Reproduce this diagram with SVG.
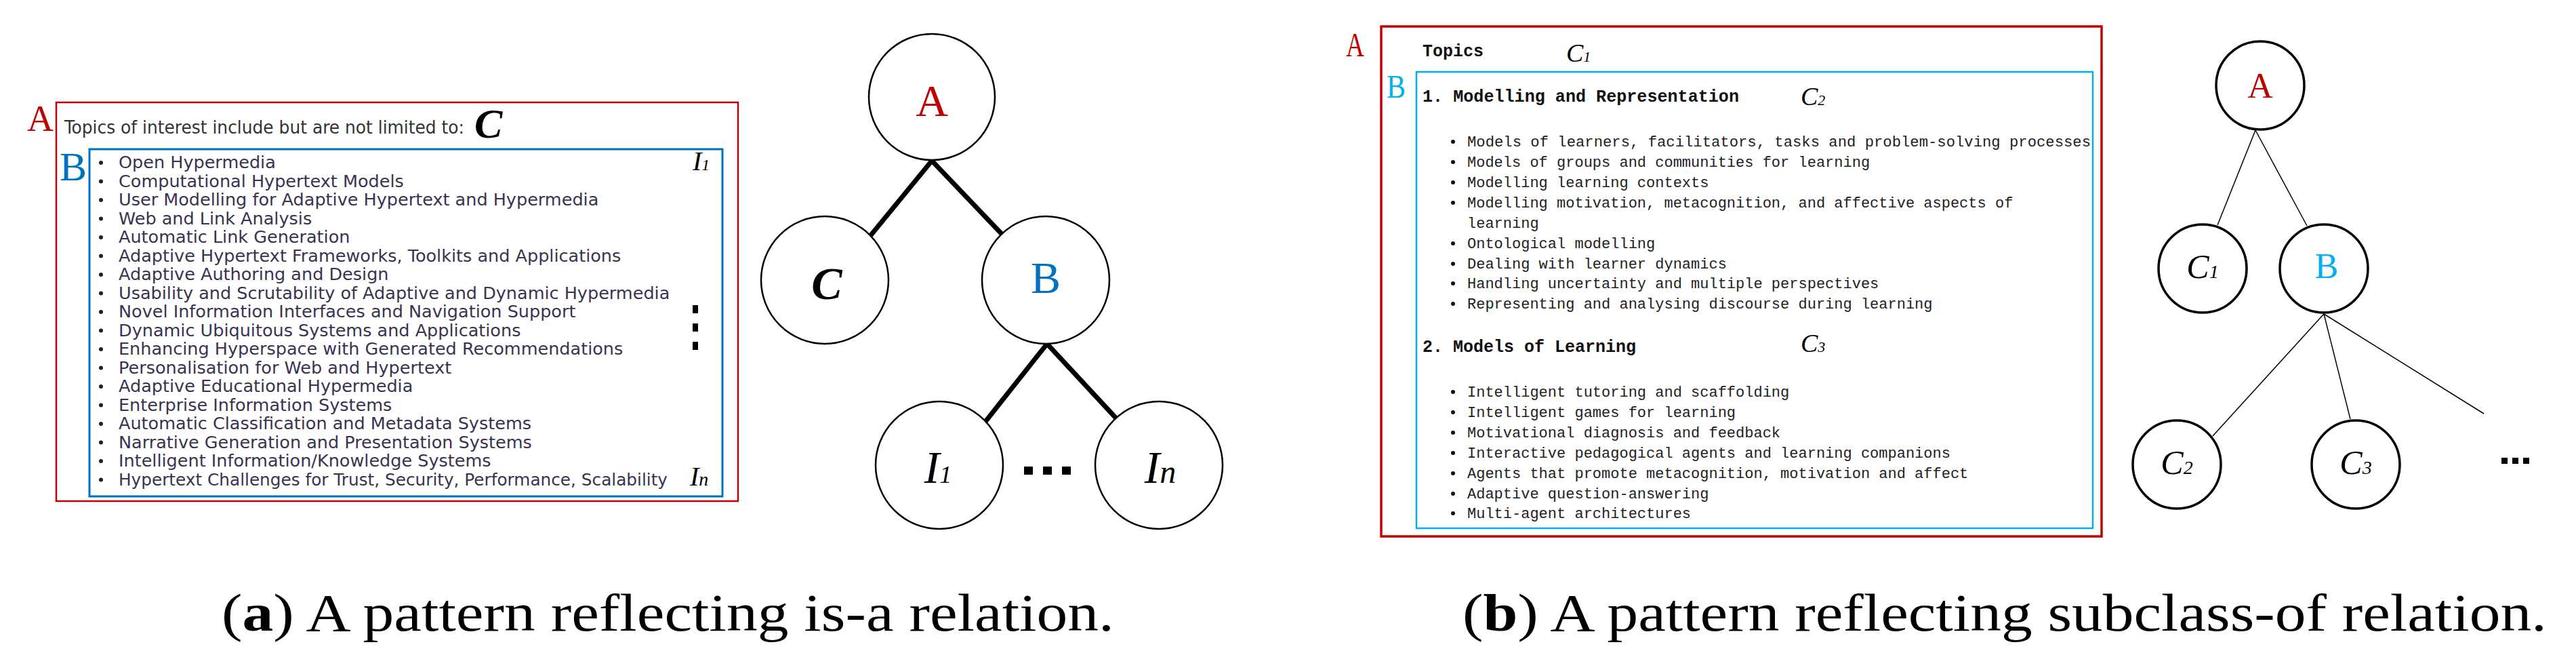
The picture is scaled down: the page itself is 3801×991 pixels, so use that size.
<svg xmlns="http://www.w3.org/2000/svg" width="3801" height="991" viewBox="0 0 3801 991">
<style>
.bg{fill:#fff}
.serif{font-family:"Liberation Serif","Times New Roman",serif}
.it{font-family:"Liberation Serif",serif;font-style:italic}
.red{fill:#C00000}
.blue1{fill:#0070C0}
.blue2{fill:#00B0F0}
.lst{font-family:"DejaVu Sans","Liberation Sans",sans-serif;font-size:25.5px;fill:#3a3350}
.mono{font-family:"Liberation Mono","DejaVu Sans Mono",monospace;font-size:22px;fill:#222}
.monob{font-family:"Liberation Mono",monospace;font-size:25px;font-weight:bold;fill:#111}
.n1{fill:#fff;stroke:#000;stroke-width:2.5}
.n2{fill:#fff;stroke:#000;stroke-width:3.5}
.thick{stroke:#000;stroke-width:7;fill:none}
.thin{stroke:#000;stroke-width:1.5;fill:none}
</style>
<rect class="bg" width="3801" height="991"/>

<!-- Panel a : list -->
<g id="panelA-list">
<rect x="83" y="151" width="1006" height="588" fill="none" stroke="#C00000" stroke-width="2.5"/>
<text class="serif red" x="40" y="193" font-size="54">A</text>
<text x="95" y="197" font-family="DejaVu Sans Condensed,Liberation Sans,sans-serif" font-size="26" fill="#333" textLength="590" lengthAdjust="spacingAndGlyphs">Topics of interest include but are not limited to:</text>
<text class="it" x="700" y="203" font-size="62" font-weight="bold">C</text>
<rect x="132" y="220" width="934" height="512" fill="none" stroke="#0070C0" stroke-width="3"/>
<text class="serif blue1" x="88" y="266" font-size="60">B</text>
<g class="lst">
<text x="175" y="248">Open Hypermedia</text>
<text x="175" y="275.5">Computational Hypertext Models</text>
<text x="175" y="303">User Modelling for Adaptive Hypertext and Hypermedia</text>
<text x="175" y="330.5">Web and Link Analysis</text>
<text x="175" y="358">Automatic Link Generation</text>
<text x="175" y="385.5">Adaptive Hypertext Frameworks, Toolkits and Applications</text>
<text x="175" y="413">Adaptive Authoring and Design</text>
<text x="175" y="440.5">Usability and Scrutability of Adaptive and Dynamic Hypermedia</text>
<text x="175" y="468">Novel Information Interfaces and Navigation Support</text>
<text x="175" y="495.5">Dynamic Ubiquitous Systems and Applications</text>
<text x="175" y="523">Enhancing Hyperspace with Generated Recommendations</text>
<text x="175" y="550.5">Personalisation for Web and Hypertext</text>
<text x="175" y="578">Adaptive Educational Hypermedia</text>
<text x="175" y="605.5">Enterprise Information Systems</text>
<text x="175" y="633">Automatic Classification and Metadata Systems</text>
<text x="175" y="660.5">Narrative Generation and Presentation Systems</text>
<text x="175" y="688">Intelligent Information/Knowledge Systems</text>
<text x="175" y="715.5" textLength="810" lengthAdjust="spacingAndGlyphs">Hypertext Challenges for Trust, Security, Performance, Scalability</text>
</g>
<g fill="#222">
<circle cx="149" cy="240" r="3"/><circle cx="149" cy="267.5" r="3"/><circle cx="149" cy="295" r="3"/><circle cx="149" cy="322.5" r="3"/><circle cx="149" cy="350" r="3"/><circle cx="149" cy="377.5" r="3"/><circle cx="149" cy="405" r="3"/><circle cx="149" cy="432.5" r="3"/><circle cx="149" cy="460" r="3"/><circle cx="149" cy="487.5" r="3"/><circle cx="149" cy="515" r="3"/><circle cx="149" cy="542.5" r="3"/><circle cx="149" cy="570" r="3"/><circle cx="149" cy="597.5" r="3"/><circle cx="149" cy="625" r="3"/><circle cx="149" cy="652.5" r="3"/><circle cx="149" cy="680" r="3"/><circle cx="149" cy="707.5" r="3"/>
</g>
<text class="it" x="1022" y="251" font-size="40">I<tspan font-size="24">1</tspan></text>
<text class="it" x="1018" y="716" font-size="40">I<tspan font-size="28">n</tspan></text>
<rect x="1022" y="450" width="8" height="12"/><rect x="1022" y="477" width="8" height="12"/><rect x="1022" y="504" width="8" height="12"/>
</g>

<!-- Panel a : tree -->
<g id="connectors-a">
<line class="thick" x1="1375" y1="237" x2="1284" y2="348"/>
<line class="thick" x1="1375" y1="237" x2="1479" y2="346"/>
<line class="thick" x1="1545" y1="507" x2="1453" y2="623"/>
<line class="thick" x1="1545" y1="507" x2="1648" y2="618"/>
</g>
<g id="a-A"><circle class="n1" cx="1375" cy="143" r="93"/><text class="serif red" x="1375" y="171" font-size="66" text-anchor="middle">A</text></g>
<g id="a-C"><circle class="n1" cx="1217" cy="413" r="94"/><text class="it" x="1220" y="441" font-size="68" font-weight="bold" text-anchor="middle">C</text></g>
<g id="a-B"><circle class="n1" cx="1543" cy="413" r="94"/><text class="serif blue1" x="1543" y="432" font-size="66" text-anchor="middle">B</text></g>
<g id="a-I1"><circle class="n1" cx="1386" cy="686" r="94"/><text class="it" x="1384" y="712" font-size="68" text-anchor="middle">I<tspan font-size="36">1</tspan></text></g>
<g id="a-In"><circle class="n1" cx="1710" cy="686" r="94"/><text class="it" x="1712" y="712" font-size="68" text-anchor="middle">I<tspan font-size="48">n</tspan></text></g>
<g id="a-dots"><rect x="1511" y="688" width="13" height="12"/><rect x="1539" y="688" width="13" height="12"/><rect x="1567" y="688" width="13" height="12"/></g>

<!-- Panel b : list -->
<g id="panelB-list">
<rect x="2038" y="39" width="1063" height="752" fill="none" stroke="#C00000" stroke-width="3.5"/>
<text class="serif red" x="1986" y="83" font-size="50" textLength="27" lengthAdjust="spacingAndGlyphs">A</text>
<text class="monob" x="2099" y="83" font-size="26">Topics</text>
<text class="it" x="2311" y="91" font-size="38">C<tspan font-size="22">1</tspan></text>
<rect x="2090" y="106" width="998" height="673" fill="none" stroke="#00B0F0" stroke-width="2.5"/>
<text class="serif blue2" x="2046" y="144" font-size="48" textLength="28" lengthAdjust="spacingAndGlyphs">B</text>
<text class="monob" x="2099" y="150" textLength="467" lengthAdjust="spacingAndGlyphs">1. Modelling and Representation</text>
<text class="it" x="2657" y="155" font-size="38">C<tspan font-size="22">2</tspan></text>
<g class="mono">
<text x="2165" y="216" textLength="920" lengthAdjust="spacingAndGlyphs">Models of learners, facilitators, tasks and problem-solving processes</text>
<text x="2165" y="246">Models of groups and communities for learning</text>
<text x="2165" y="276">Modelling learning contexts</text>
<text x="2165" y="306">Modelling motivation, metacognition, and affective aspects of</text>
<text x="2165" y="336">learning</text>
<text x="2165" y="366">Ontological modelling</text>
<text x="2165" y="396">Dealing with learner dynamics</text>
<text x="2165" y="425">Handling uncertainty and multiple perspectives</text>
<text x="2165" y="455">Representing and analysing discourse during learning</text>
<text x="2165" y="585">Intelligent tutoring and scaffolding</text>
<text x="2165" y="615">Intelligent games for learning</text>
<text x="2165" y="645">Motivational diagnosis and feedback</text>
<text x="2165" y="675">Interactive pedagogical agents and learning companions</text>
<text x="2165" y="705">Agents that promote metacognition, motivation and affect</text>
<text x="2165" y="735">Adaptive question-answering</text>
<text x="2165" y="764">Multi-agent architectures</text>
</g>
<g fill="#111">
<circle cx="2144" cy="209" r="3"/><circle cx="2144" cy="239" r="3"/><circle cx="2144" cy="269" r="3"/><circle cx="2144" cy="299" r="3"/><circle cx="2144" cy="359" r="3"/><circle cx="2144" cy="389" r="3"/><circle cx="2144" cy="418" r="3"/><circle cx="2144" cy="448" r="3"/>
<circle cx="2144" cy="578" r="3"/><circle cx="2144" cy="608" r="3"/><circle cx="2144" cy="638" r="3"/><circle cx="2144" cy="668" r="3"/><circle cx="2144" cy="698" r="3"/><circle cx="2144" cy="728" r="3"/><circle cx="2144" cy="757" r="3"/>
</g>
<text class="monob" x="2099" y="519" textLength="315" lengthAdjust="spacingAndGlyphs">2. Models of Learning</text>
<text class="it" x="2657" y="519" font-size="38">C<tspan font-size="22">3</tspan></text>
</g>

<!-- Panel b : tree -->
<g id="connectors-b">
<line class="thin" x1="3328" y1="192" x2="3272" y2="332"/>
<line class="thin" x1="3328" y1="192" x2="3404" y2="333"/>
<line class="thin" x1="3429" y1="463" x2="3265" y2="643"/>
<line class="thin" x1="3429" y1="463" x2="3468" y2="618"/>
<line class="thin" x1="3429" y1="463" x2="3665" y2="610"/>
</g>
<g id="b-A"><circle class="n2" cx="3335" cy="126" r="65"/><text class="serif red" x="3335" y="144" font-size="52" text-anchor="middle">A</text></g>
<g id="b-C1"><circle class="n2" cx="3250" cy="396" r="65"/><text class="it" x="3250" y="410" font-size="50" text-anchor="middle">C<tspan font-size="28">1</tspan></text></g>
<g id="b-B"><circle class="n2" cx="3429" cy="396" r="65"/><text class="serif blue2" x="3433" y="410" font-size="52" text-anchor="middle">B</text></g>
<g id="b-C2"><circle class="n2" cx="3212" cy="685" r="65"/><text class="it" x="3212" y="699" font-size="50" text-anchor="middle">C<tspan font-size="28">2</tspan></text></g>
<g id="b-C3"><circle class="n2" cx="3476" cy="685" r="65"/><text class="it" x="3476" y="699" font-size="50" text-anchor="middle">C<tspan font-size="28">3</tspan></text></g>
<g id="b-dots"><rect x="3691" y="675" width="9" height="9"/><rect x="3707" y="675" width="9" height="9"/><rect x="3723" y="675" width="9" height="9"/></g>

<!-- Captions -->
<text class="serif" x="327" y="930" font-size="78" textLength="1317" lengthAdjust="spacingAndGlyphs">(<tspan font-weight="bold">a</tspan>) A pattern reflecting is-a relation.</text>
<text class="serif" x="2158" y="930" font-size="78" textLength="1600" lengthAdjust="spacingAndGlyphs">(<tspan font-weight="bold">b</tspan>) A pattern reflecting subclass-of relation.</text>
</svg>
